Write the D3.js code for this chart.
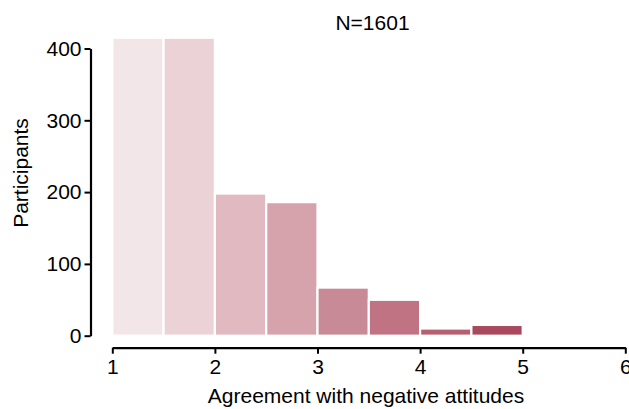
<!DOCTYPE html>
<html lang="en">
  <head>
    <meta charset="utf-8">
    <title>Histogram</title>
    <script src="https://d3js.org/d3.v7.min.js"></script>
    <style>
      body { margin: 0; background: #fff; }
      svg text { font-family: "Liberation Sans", Arial, sans-serif; font-size: 21px; fill: #000; }
    </style>
  </head>
  <body>
    <svg id="hist"></svg>
    <script>
      // 1) data - bins of width 0.5, first two bars run past the top of the axis
      let binStarts = [1, 1.5, 2, 2.5, 3, 3.5, 4, 4.5];
      let counts = [540, 535, 198, 186, 67, 50, 10, 15];
      let barColors = ["#f3e6e9", "#ebd2d7", "#e0b9c1", "#d6a2ac", "#c98a97", "#c07383", "#b65f71", "#a9495d"];
      let xTicks = [1, 2, 3, 4, 5, 6];
      let yTicks = [0, 100, 200, 300, 400];
      let binWidth = 0.5;
      let yClip = 415;

      // 2) svg base
      let width = 629, height = 409;
      let svg = d3.select("#hist").attr("width", width).attr("height", height);

      // 3) scales
      let xScale = d3.scaleLinear().domain([1, 6]).range([112.3, 625.3]);
      let yScale = d3.scaleLinear().domain([0, 400]).range([335.7, 48.5]);

      // 4) bars
      svg.selectAll("rect.bar")
        .data(counts)
        .enter()
        .append("rect")
        .attr("class", "bar")
        .attr("x", (d, i) => xScale(binStarts[i]))
        .attr("width", (d, i) => xScale(binStarts[i] + binWidth) - xScale(binStarts[i]))
        .attr("y", d => yScale(Math.min(d, yClip)))
        .attr("height", d => yScale(0) - yScale(Math.min(d, yClip)))
        .attr("fill", (d, i) => barColors[i])
        .attr("stroke", "#fff")
        .attr("stroke-width", 2.2);

      // 5) axes (offset from the data, like despine)
      let xAxis = d3.axisBottom(xScale).tickValues(xTicks).tickFormat(d3.format("d"))
                    .tickSize(6).tickSizeOuter(0).tickPadding(5);
      let gx = svg.append("g").attr("transform", "translate(0,347.7)").call(xAxis);

      let yAxis = d3.axisLeft(yScale).tickValues(yTicks).tickFormat(d3.format("d"))
                    .tickSize(6).tickSizeOuter(0).tickPadding(3);
      let gy = svg.append("g").attr("transform", "translate(90.5,0)").call(yAxis);

      [gx, gy].forEach(g => {
        g.attr("font-size", null).attr("font-family", null);
        g.select(".domain").attr("stroke", "#000").attr("stroke-width", 2.2);
        g.selectAll(".tick line").attr("stroke", "#000").attr("stroke-width", 2);
      });

      // 6) labels
      svg.append("text")
        .attr("x", 372.5).attr("y", 30)
        .attr("text-anchor", "middle")
        .text("N=1601");

      svg.append("text")
        .attr("x", 366).attr("y", 403)
        .attr("text-anchor", "middle")
        .text("Agreement with negative attitudes");

      svg.append("text")
        .attr("transform", "translate(28,173) rotate(-90)")
        .attr("text-anchor", "middle")
        .text("Participants");
    </script>
  </body>
</html>
